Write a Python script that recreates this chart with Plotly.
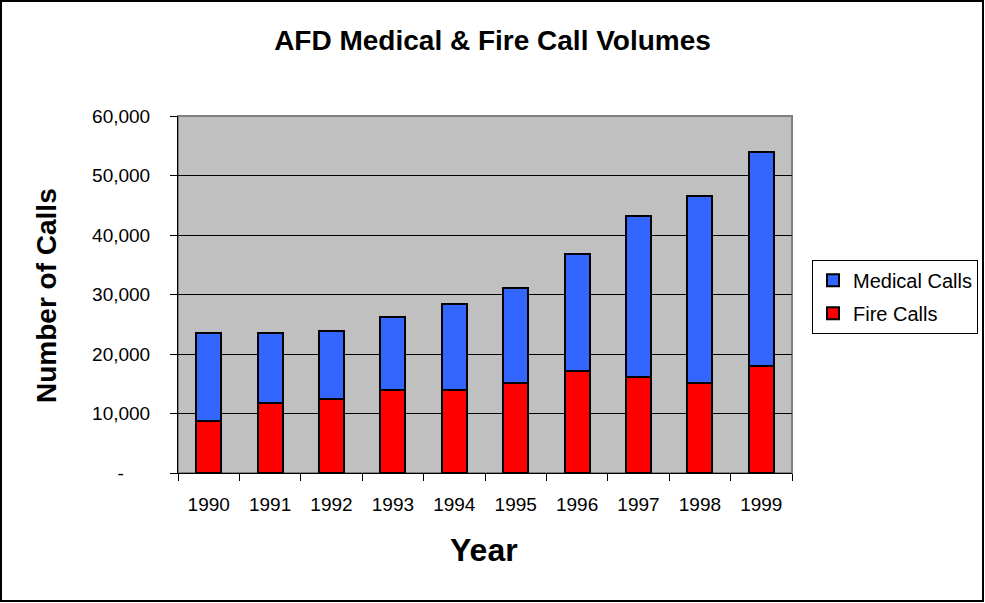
import plotly.graph_objects as go

years = ["1990", "1991", "1992", "1993", "1994", "1995", "1996", "1997", "1998", "1999"]
fire_calls = [8800, 11750, 12500, 13950, 14000, 15200, 17100, 16100, 15200, 18000]
medical_calls = [14650, 11850, 11400, 12300, 14400, 15950, 19750, 27050, 31300, 35950]

y_tickvals = [0, 10000, 20000, 30000, 40000, 50000, 60000]
y_ticktext = ["-" + "\u00a0" * 5, "10,000", "20,000", "30,000", "40,000", "50,000", "60,000"]

FONT = "Liberation Sans, Arial, sans-serif"

fig = go.Figure()

fig.add_trace(go.Bar(
    x=years, y=fire_calls, name="Fire Calls", legendgroup="fire", legendrank=2,
    marker=dict(color="#FF0000", line=dict(color="black", width=2)),
    width=0.41
))
fig.add_trace(go.Bar(
    x=years, y=medical_calls, name="Medical Calls", legendgroup="medical", legendrank=1,
    marker=dict(color="#3366FF", line=dict(color="black", width=2)),
    width=0.41
))

fig.update_layout(
    width=985, height=603,
    barmode="stack",
    paper_bgcolor="white",
    plot_bgcolor="#C0C0C0",
    font=dict(family=FONT, size=19, color="black"),
    margin=dict(l=178, r=193, t=116, b=130, autoexpand=False),
    title=dict(
        text="<b>AFD Medical & Fire Call Volumes</b>",
        x=0.5, xanchor="center", y=0.934, yanchor="middle",
        font=dict(family=FONT, size=28, color="black")
    ),
    legend=dict(
        x=1.0326, xanchor="left", y=0.597, yanchor="top",
        traceorder="grouped", tracegroupgap=4,
        bordercolor="black", borderwidth=1, bgcolor="white",
        font=dict(family=FONT, size=20)
    ),
    showlegend=True,
    annotations=[
        dict(text="<b>Number of Calls</b>", xref="paper", yref="paper",
             x=(46 - 178) / 614, y=(473 - 296) / 357, textangle=-90,
             showarrow=False, xanchor="center", yanchor="middle",
             font=dict(family=FONT, size=28)),
        dict(text="<b>Year</b>", xref="paper", yref="paper",
             x=(484 - 178) / 614, y=(473 - 550) / 357,
             showarrow=False, xanchor="center", yanchor="middle",
             font=dict(family=FONT, size=32)),
    ],
    shapes=[
        dict(type="rect", xref="paper", yref="paper",
             x0=0, x1=1, y0=0, y1=1,
             line=dict(color="#808080", width=2), layer="below"),
        dict(type="rect", xref="paper", yref="paper",
             x0=(1 - 178) / 614, x1=(983 - 178) / 614,
             y0=(473 - 601) / 357, y1=(473 - 1) / 357,
             line=dict(color="black", width=2)),
    ],
)

fig.update_xaxes(
    type="category",
    showline=True, linecolor="black", linewidth=1,
    ticks="outside", tickson="boundaries", ticklen=7, tickcolor="black",
    ticklabelstandoff=14,
    showgrid=False,
)
fig.update_yaxes(
    range=[0, 60000],
    tickvals=y_tickvals, ticktext=y_ticktext,
    showline=True, linecolor="black", linewidth=1,
    ticks="outside", ticklen=7, tickcolor="black",
    ticklabelstandoff=16,
    showgrid=True, gridcolor="black", gridwidth=1,
    zeroline=False,
)

fig.write_html(
    "out.html",
    config={"displayModeBar": False},
    post_script="document.body.style.margin='0';document.body.style.overflow='hidden';",
)
